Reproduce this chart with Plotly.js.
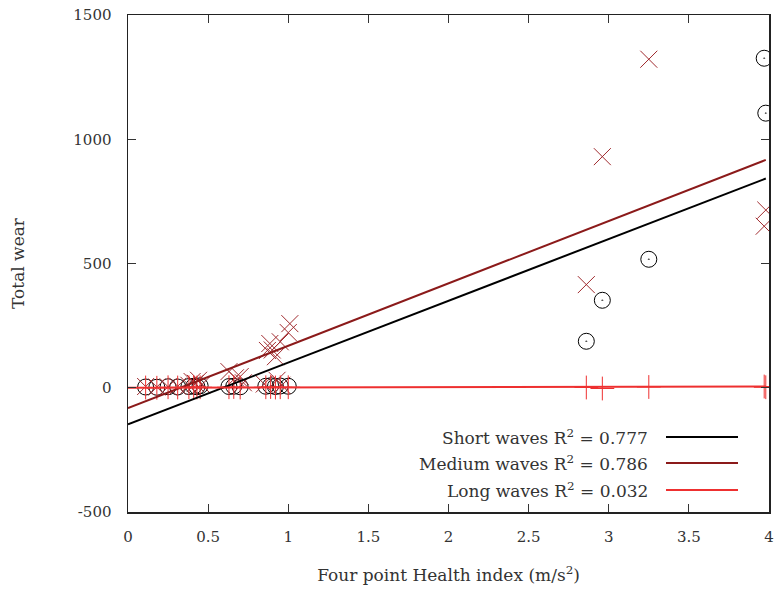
<!DOCTYPE html>
<html>
<head>
<meta charset="utf-8">
<script src="https://cdn.plot.ly/plotly-3.0.1.min.js"></script>
<style>html,body{margin:0;padding:0;background:#fff;}#chart{width:779px;height:596px;}</style>
</head>
<body>
<div id="chart"></div>
<script>
// Data
var shortX = [0.11, 0.18, 0.25, 0.31, 0.38, 0.41, 0.43, 0.45, 0.63, 0.66, 0.70, 0.86, 0.89, 0.92, 0.95, 1.00, 2.86, 2.96, 3.25, 3.97, 3.98];
var shortY = [3, 2, 4, 3, 5, 6, 4, 8, 5, 6, 4, 6, 8, 5, 7, 6, 187, 352, 517, 1326, 1105];

var mediumX = [0.11, 0.18, 0.25, 0.31, 0.38, 0.40, 0.42, 0.44, 0.46, 0.63, 0.67, 0.70, 0.72, 0.85, 0.87, 0.885, 0.90, 0.92, 0.93, 0.95, 0.96, 1.00, 1.01, 2.86, 2.96, 3.25, 3.97, 3.98];
var mediumY = [5, 3, 4, 6, 10, 25, 18, 30, 12, 65, 40, 45, 20, 15, 150, 178, 152, 125, 30, 185, 10, 222, 258, 415, 930, 1322, 650, 715];

var longX = [0.11, 0.18, 0.25, 0.31, 0.38, 0.41, 0.43, 0.45, 0.63, 0.66, 0.70, 0.86, 0.89, 0.92, 0.95, 1.00, 2.86, 2.96, 3.25, 3.97, 3.98];
var longY = [1, 0, 2, 1, 2, 3, 1, 2, 2, 3, 1, 2, 3, 1, 2, 2, 1, -3, 3, 5, 2];

// Fitted regression lines (end points)
var fitX = [0, 3.98];
var shortFitY = [-147, 842];
var mediumFitY = [-82, 917];
var longFitY = [0, 5];

var seriesNames = ['Short waves R<sup>2</sup> = 0.777', 'Medium waves R<sup>2</sup> = 0.786', 'Long waves R<sup>2</sup> = 0.032'];
var xTicks = [0, 0.5, 1, 1.5, 2, 2.5, 3, 3.5, 4];
var xTickText = ['0', '0.5', '1', '1.5', '2', '2.5', '3', '3.5', '4'];
var yTicks = [-500, 0, 500, 1000, 1500];
var yTickText = ['-500', '0', '500', '1000', '1500'];

var cShort = '#000000', cMedium = '#8b1a1a', cMediumPt = '#a02a2e', cLong = '#ee3030';
var font = 'DejaVu Serif, serif';
var txtColor = '#333';

var traces = [
  {x: shortX, y: shortY, mode: 'markers', type: 'scatter', showlegend: false,
   marker: {symbol: 'circle-open-dot', size: 16, color: cShort, line: {width: 1, color: cShort}}},
  {x: mediumX, y: mediumY, mode: 'markers', type: 'scatter', showlegend: false,
   marker: {symbol: 'x-thin-open', size: 17, color: cMediumPt, line: {width: 1, color: cMediumPt}}},
  {x: longX, y: longY, mode: 'markers', type: 'scatter', showlegend: false,
   marker: {symbol: 'cross-thin-open', size: 17, color: cLong, line: {width: 1, color: cLong}}},
  {x: fitX, y: shortFitY, mode: 'lines', type: 'scatter', showlegend: false, line: {color: cShort, width: 2}},
  {x: fitX, y: mediumFitY, mode: 'lines', type: 'scatter', showlegend: false, line: {color: cMedium, width: 2}},
  {x: fitX, y: longFitY, mode: 'lines', type: 'scatter', showlegend: false, line: {color: cLong, width: 2}}
];

function pxX(px) { return (px - 128) / 641; }
function pxY(py) { return (512 - py) / 497; }

var legendRows = [437, 463, 490];
var legendColors = [cShort, cMedium, cLong];
var annotations = [], shapes = [];
for (var i = 0; i < 3; i++) {
  annotations.push({xref: 'paper', yref: 'paper', x: pxX(650), y: pxY(legendRows[i]), xanchor: 'right', yanchor: 'middle',
    text: seriesNames[i], showarrow: false, font: {family: font, size: 17, color: txtColor}});
  shapes.push({type: 'line', xref: 'paper', yref: 'paper', x0: pxX(666), x1: pxX(738), y0: pxY(legendRows[i]), y1: pxY(legendRows[i]),
    line: {color: legendColors[i], width: 2}});
}

var layout = {
  width: 779, height: 596,
  margin: {l: 128, r: 10, t: 15, b: 84},
  paper_bgcolor: '#fff', plot_bgcolor: '#fff',
  showlegend: false,
  font: {family: font, size: 15, color: txtColor},
  xaxis: {
    range: [0, 4], tickvals: xTicks, ticktext: xTickText, ticks: 'inside', ticklen: 8, tickcolor: '#333',
    mirror: 'allticks', showline: true, linecolor: '#222', linewidth: 1.5, showgrid: false, zeroline: false,
    ticklabelstandoff: 10,
    title: {text: 'Four point Health index (m/s<sup>2</sup>)', standoff: 24, font: {family: font, size: 17, color: txtColor}}
  },
  yaxis: {
    range: [-500, 1500], tickvals: yTicks, ticktext: yTickText, ticks: 'inside', ticklen: 8, tickcolor: '#333',
    mirror: 'allticks', showline: true, linecolor: '#222', linewidth: 1.5, showgrid: false, zeroline: false,
    ticklabelstandoff: 12,
    title: {text: 'Total wear', standoff: 44, font: {family: font, size: 17, color: txtColor}}
  },
  annotations: annotations,
  shapes: shapes
};

Plotly.newPlot('chart', traces, layout, {displayModeBar: false, staticPlot: true});
</script>
</body>
</html>
